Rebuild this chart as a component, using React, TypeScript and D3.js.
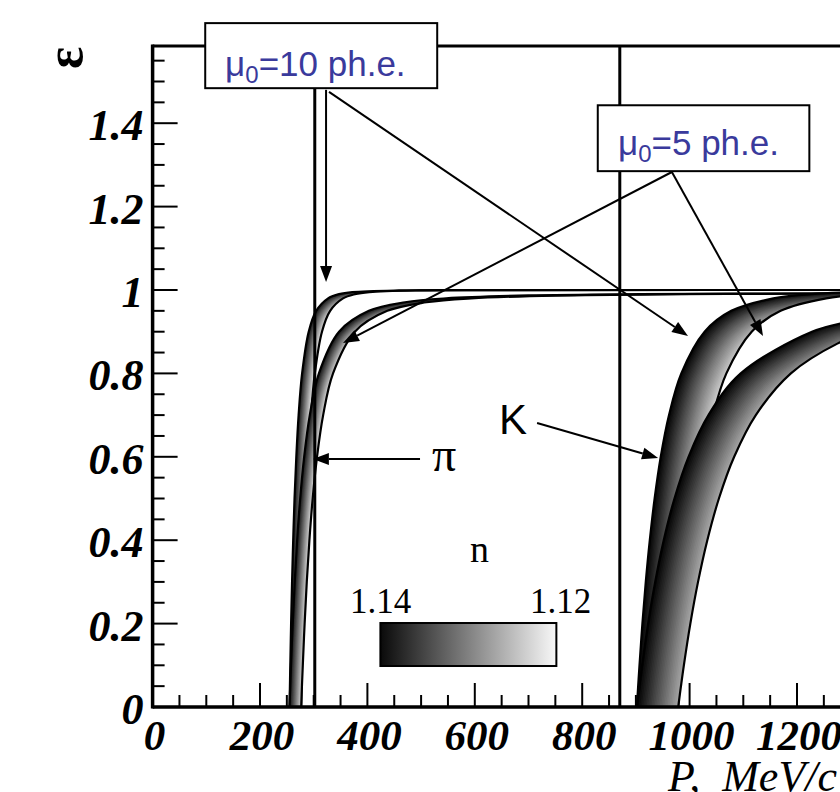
import React from 'react';
import * as d3 from 'd3';

type Pt = [number, number];

// ---------- data ----------
const xTicksMajor = [0, 200, 400, 600, 800, 1000, 1200, 1400];
const xTickLabels = ['0', '200', '400', '600', '800', '1000', '1200', '1400'];
const yTicksMajor = [0, 0.2, 0.4, 0.6, 0.8, 1, 1.2, 1.4];
const yTickLabels = ['0', '0.2', '0.4', '0.6', '0.8', '1', '1.2', '1.4'];
const xMinorStep = 50;
const yMinorStep = 0.05;
const nLabels = ['1.14', '1.12'];
const thresholdLines = [302, 870];

// efficiency edge curves [P (MeV/c), epsilon]
const pi10_n114: Pt[] = [[255.0, 0], [255.7, 0.05], [256.4, 0.1], [257.9, 0.2], [259.7, 0.3], [261.8, 0.4], [264.3, 0.5], [267.6, 0.6], [271.9, 0.7], [278.4, 0.8], [290.7, 0.9], [304.7, 0.95], [326.8, 0.98], [347.2, 0.99], [371.9, 0.995], [458.6, 0.999], [600, 0.9997], [1500, 0.99995]];
const pi10_n112: Pt[] = [[276.7, 0], [277.4, 0.05], [278.2, 0.1], [279.8, 0.2], [281.8, 0.3], [284.1, 0.4], [286.8, 0.5], [290.3, 0.6], [295.0, 0.7], [302.1, 0.8], [315.4, 0.9], [330.6, 0.95], [354.6, 0.98], [376.7, 0.99], [403.5, 0.995], [497.6, 0.999], [650, 0.9997], [1500, 0.99994]];
const pi5_n114: Pt[] = [[255.0, 0], [256.3, 0.05], [257.7, 0.1], [260.9, 0.2], [264.6, 0.3], [269.1, 0.4], [274.8, 0.5], [282.2, 0.6], [292.7, 0.7], [309.7, 0.8], [347.2, 0.9], [402.8, 0.95], [470, 0.9706], [546.7, 0.98], [700, 0.9869], [907.5, 0.99], [1200, 0.9916], [1500, 0.9922]];
const pi5_n112: Pt[] = [[276.7, 0], [278.1, 0.05], [279.7, 0.1], [283.1, 0.2], [287.1, 0.3], [292.0, 0.4], [298.1, 0.5], [306.2, 0.6], [317.6, 0.7], [336.0, 0.8], [376.7, 0.9], [437.0, 0.95], [510, 0.9706], [593.2, 0.98], [750, 0.9867], [984.7, 0.99], [1200, 0.9912], [1500, 0.992]];
const K10_n114: Pt[] = [[901.9, 0], [904.2, 0.05], [906.7, 0.1], [912.1, 0.2], [918.4, 0.3], [925.9, 0.4], [934.9, 0.5], [946.3, 0.6], [961.7, 0.7], [984.6, 0.8], [1028.0, 0.9], [1077.6, 0.95], [1155.9, 0.98], [1227.9, 0.99], [1315.3, 0.995], [1500, 0.9983]];
const K10_n112: Pt[] = [[978.8, 0], [981.3, 0.05], [984.0, 0.1], [989.9, 0.2], [996.7, 0.3], [1004.8, 0.4], [1014.6, 0.5], [1027.0, 0.6], [1043.6, 0.7], [1068.5, 0.8], [1115.6, 0.9], [1169.5, 0.95], [1254.4, 0.98], [1332.6, 0.99], [1427.5, 0.995], [1500, 0.9968]];
const K5_n114: Pt[] = [[901.9, 0], [906.6, 0.05], [911.6, 0.1], [922.7, 0.2], [935.9, 0.3], [951.8, 0.4], [971.8, 0.5], [998.0, 0.6], [1035.1, 0.7], [1095.2, 0.8], [1227.9, 0.9], [1300, 0.925], [1400, 0.9463], [1500, 0.9589]];
const K5_n112: Pt[] = [[978.8, 0], [983.9, 0.05], [989.3, 0.1], [1001.4, 0.2], [1015.7, 0.3], [1033.0, 0.4], [1054.6, 0.5], [1083.0, 0.6], [1123.3, 0.7], [1188.6, 0.8], [1276, 0.872], [1332.6, 0.9], [1400, 0.9224], [1500, 0.9434]];

// annotations (data coordinates)
const boxes = [
  { label: '10', x0: 98, x1: 530, y0: 1.64, y1: 1.484, tx: 135, ty: 1.513 },
  { label: '5', x0: 829, x1: 1223, y0: 1.443, y1: 1.285, tx: 866.6, ty: 1.3237 },
];
const arrows: [number, number, number, number][] = [
  [323, 1.48, 323, 1.019],
  [328.5, 1.475, 997, 0.8897],
  [967, 1.283, 354.5, 0.8729],
  [967, 1.283, 1136.7, 0.8897],
  [498, 0.5947, 298.5, 0.5947],
  [716, 0.681, 941.3, 0.5971],
];

// ---------- layout ----------
const W = 840, H = 792;
const x = d3.scaleLinear().domain([0, 1500]).range([152.6, 152.6 + 1500 * 0.537]);
const y = d3.scaleLinear().domain([0, 1.585]).range([707, 707 - 1.585 * 417]);
const serif = "'Liberation Serif', 'Times New Roman', serif";
const sans = "'Liberation Sans', Arial, sans-serif";
const blue = '#3a3a9c';

const line = d3.line<Pt>().x(d => x(d[0])).y(d => y(d[1])).curve(d3.curveCatmullRom.alpha(0.5));

const bands = [
  { id: 'pi10', left: pi10_n114, right: pi10_n112, dx: 14, dy: 9 },
  { id: 'pi5', left: pi5_n114, right: pi5_n112, dx: 15, dy: 11 },
  { id: 'K10', left: K10_n114, right: K10_n112, dx: 50, dy: 19 },
  { id: 'K5', left: K5_n114, right: K5_n112, dx: 62, dy: 22 },
];

function Band({ b }: { b: typeof bands[number] }) {
  const poly = line([...b.left, ...b.right.slice().reverse()]) + 'Z';
  const leftD = line(b.left) as string;
  const rightD = line(b.right) as string;
  const N = 40;
  const copies = d3.range(N + 1).map(i => i / N);
  const col = d3.interpolateRgb('#000000', '#ffffff');
  return (
    <g>
      <clipPath id={`clip-${b.id}`}><path d={poly} /></clipPath>
      <path d={poly} fill="#fafafa" />
      <g clipPath={`url(#clip-${b.id})`}>
        {copies.map((t, i) => (
          <path key={i} d={leftD} fill="none" stroke={col(t)} strokeWidth={Math.max(2.5, (b.dx / N) * 2.2)}
            transform={`translate(${b.dx * t},${b.dy * t})`} />
        ))}
      </g>
      <path d={leftD} fill="none" stroke="#000" strokeWidth={2.2} />
      <path d={rightD} fill="none" stroke="#000" strokeWidth={2.2} />
    </g>
  );
}

function Arrow({ a }: { a: [number, number, number, number] }) {
  const x1 = x(a[0]), y1 = y(a[1]), x2 = x(a[2]), y2 = y(a[3]);
  const ang = Math.atan2(y2 - y1, x2 - x1);
  const L = 16, hw = 6;
  const bx = x2 - L * Math.cos(ang), by = y2 - L * Math.sin(ang);
  const px = -Math.sin(ang) * hw, py = Math.cos(ang) * hw;
  return (
    <g>
      <line x1={x1} y1={y1} x2={bx} y2={by} stroke="#000" strokeWidth={2} />
      <polygon points={`${x2},${y2} ${bx + px},${by + py} ${bx - px},${by - py}`} fill="#000" />
    </g>
  );
}

export default function App() {
  const xMinor = d3.range(0, 1500 + 1, xMinorStep).filter(v => v % 200 !== 0);
  const yMinor = d3.range(0, 1.58, yMinorStep).filter(v => Math.abs(v / 0.2 - Math.round(v / 0.2)) > 1e-6);
  const x0 = x(0), y0 = y(0), yTop = y(1.585);
  return (
    <svg width={W} height={H} style={{ position: 'absolute', left: 0, top: 0, background: '#fff' }}>
      <defs>
        <linearGradient id="cbar" x1="0" x2="1" y1="0" y2="0">
          <stop offset="0" stopColor="#0a0a0a" />
          <stop offset="1" stopColor="#f8f8f8" />
        </linearGradient>
      </defs>
      <rect width={W} height={H} fill="#fff" />
      {/* ticks */}
      {xTicksMajor.map(v => <line key={'xM' + v} x1={x(v)} x2={x(v)} y1={y0} y2={y0 - 24} stroke="#000" strokeWidth={2} />)}
      {xMinor.map(v => <line key={'xm' + v} x1={x(v)} x2={x(v)} y1={y0} y2={y0 - 12} stroke="#000" strokeWidth={2} />)}
      {yTicksMajor.map(v => <line key={'yM' + v} x1={x0} x2={x0 + 25} y1={y(v)} y2={y(v)} stroke="#000" strokeWidth={2} />)}
      {yMinor.map(v => <line key={'ym' + v} x1={x0} x2={x0 + 12} y1={y(v)} y2={y(v)} stroke="#000" strokeWidth={2} />)}
      {/* bands */}
      {bands.map(b => <Band key={b.id} b={b} />)}
      {/* threshold lines */}
      {thresholdLines.map(v => <line key={'t' + v} x1={x(v)} x2={x(v)} y1={yTop} y2={y0} stroke="#000" strokeWidth={3} />)}
      {/* frame */}
      <line x1={x0} x2={W} y1={yTop} y2={yTop} stroke="#000" strokeWidth={3} />
      <line x1={x0} x2={x0} y1={yTop - 1.5} y2={y0 + 1.5} stroke="#000" strokeWidth={3.5} />
      <line x1={x0} x2={W} y1={y0} y2={y0} stroke="#000" strokeWidth={3.5} />
      {/* tick labels */}
      {xTicksMajor.map((v, i) => (
        <text key={'xl' + v} x={x(v) + 2} y={750} textAnchor="middle" fontFamily={serif} fontWeight="bold" fontStyle="italic" fontSize={43}>{xTickLabels[i]}</text>
      ))}
      {yTicksMajor.map((v, i) => (
        <text key={'yl' + v} x={x0 - 9} y={y(v) + 17} textAnchor="end" fontFamily={serif} fontWeight="bold" fontStyle="italic" fontSize={44}>{yTickLabels[i]}</text>
      ))}
      {/* axis titles */}
      <text transform="translate(64,58) rotate(-90)" textAnchor="middle" dominantBaseline="central" fontFamily={serif} fontWeight="bold" fontSize={52}>ε</text>
      <text x={668} y={791} fontFamily={serif} fontStyle="italic" fontSize={44} style={{ whiteSpace: 'pre' }}>{'P,  MeV/c'}</text>
      {/* arrows */}
      {arrows.map((a, i) => <Arrow key={i} a={a} />)}
      {/* boxes */}
      {boxes.map(bx => (
        <g key={bx.label}>
          <rect x={x(bx.x0)} y={y(bx.y0)} width={x(bx.x1) - x(bx.x0)} height={y(bx.y1) - y(bx.y0)} fill="#fff" stroke="#000" strokeWidth={2} />
          <text x={x(bx.tx)} y={y(bx.ty)} fontFamily={sans} fontSize={35} fill={blue}>
            μ<tspan fontSize={24} dy={7}>0</tspan><tspan dy={-7}>={bx.label} ph.e.</tspan>
          </text>
        </g>
      ))}
      {/* labels */}
      <text x={x(520.3)} y={y(0.566)} fontFamily={serif} fontSize={48}>π</text>
      <text x={x(645)} y={y(0.6547)} fontFamily={sans} fontSize={42}>K</text>
      <text x={x(591)} y={y(0.3477)} fontFamily={serif} fontSize={38}>n</text>
      {/* colorbar */}
      <rect x={x(424.2)} y={y(0.2014)} width={x(751.9) - x(424.2)} height={y(0.0983) - y(0.2014)} fill="url(#cbar)" stroke="#000" strokeWidth={2} />
      <text x={x(367.8)} y={y(0.2254)} fontFamily={serif} fontSize={35}>{nLabels[0]}</text>
      <text x={x(702.8)} y={y(0.2254)} fontFamily={serif} fontSize={35}>{nLabels[1]}</text>
    </svg>
  );
}
